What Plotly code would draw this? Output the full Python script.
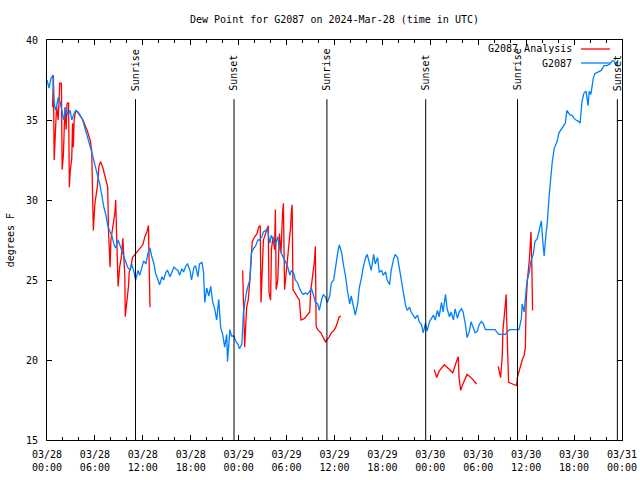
import pandas as pd
import plotly.graph_objects as go

start = pd.Timestamp("2024-03-28 00:00")

# G2087 observations: hours since 03/28 00:00 UTC, dew point (F)
obs_hours = [0.0, 0.25, 0.5, 0.75, 0.9, 1.1, 1.4, 1.6, 1.9, 2.1, 2.4, 2.6, 2.9, 3.1, 3.4, 3.6, 3.9, 4.1, 4.4, 4.75,
             5.1, 5.4, 5.6, 5.9, 6.1, 6.4, 6.6, 6.9, 7.1, 7.4, 7.6, 7.9, 8.1, 8.4, 8.6, 8.9, 9.1, 9.4, 9.6, 9.9,
             10.1, 10.4, 10.6, 10.9, 11.1, 11.4, 11.6, 11.9, 12.1, 12.4, 12.6, 12.9, 13.1, 13.4, 13.6, 13.9, 14.1,
             14.4, 14.6, 14.9, 15.1, 15.4, 15.6, 15.9, 16.1, 16.4, 16.6, 16.9, 17.1, 17.4, 17.6, 17.9, 18.1, 18.4,
             18.6, 18.9, 19.1, 19.4, 19.6, 19.75, 20.0, 20.25, 20.5, 20.75, 21.0, 21.25, 21.5, 21.75, 22.0, 22.25,
             22.5, 22.6, 22.9, 23.1, 23.4, 23.6, 23.9, 24.1, 24.4, 24.6, 24.9, 25.1, 25.4, 25.6, 25.9, 26.1, 26.4,
             26.6, 26.9, 27.1, 27.4, 27.6, 27.9, 28.1, 28.4, 28.6, 28.9, 29.1, 29.4, 29.6, 29.9, 30.1, 30.4, 30.6,
             30.9, 31.1, 31.4, 31.6, 31.9, 32.1, 32.4, 32.6, 32.9, 33.1, 33.4, 33.6, 33.9, 34.1, 34.4, 34.6, 34.9,
             35.1, 35.4, 35.6, 35.9, 36.1, 36.4, 36.6, 36.9, 37.1, 37.4, 37.6, 37.9, 38.1, 38.4, 38.6, 38.9, 39.1,
             39.4, 39.6, 39.9, 40.1, 40.4, 40.6, 40.9, 41.1, 41.4, 41.6, 41.9, 42.1, 42.4, 42.6, 42.9, 43.1, 43.4,
             43.6, 43.9, 44.1, 44.4, 44.6, 44.9, 45.1, 45.4, 45.6, 45.9, 46.1, 46.4, 46.6, 46.9, 47.1, 47.4, 47.6,
             47.9, 48.1, 48.4, 48.6, 48.9, 49.1, 49.4, 49.6, 49.9, 50.1, 50.4, 50.6, 50.9, 51.1, 51.4, 51.6, 51.9,
             52.1, 52.4, 52.6, 52.9, 53.1, 53.4, 53.6, 53.9, 54.1, 54.4, 54.6, 54.9, 55.1, 56.1, 56.4, 56.6, 57.4,
             57.6, 57.9, 59.1, 59.4, 59.5, 59.75, 60.0, 60.1, 60.4, 60.6, 60.9, 61.1, 61.4, 61.6, 61.9, 62.1, 62.25,
             62.5, 62.6, 62.9, 63.1, 63.25, 63.5, 63.9, 64.1, 64.5, 64.9, 65.1, 65.5, 65.75, 66.0, 66.25, 66.6,
             66.75, 66.9, 67.0, 67.25, 67.5, 67.75, 67.9, 68.1, 68.4, 68.6, 69.0, 69.4, 69.75, 70.1, 70.5, 70.75,
             71.0, 71.25, 71.5]
obs_values = [37.5, 37.0, 37.6, 37.8, 36.0, 35.6, 36.4, 36.2, 35.5, 35.0, 35.8, 35.3, 35.6, 35.0, 35.4, 35.6, 35.5,
              35.3, 35.1, 34.5, 33.9, 33.5, 33.0, 32.4, 32.0, 31.5, 31.0, 30.2, 29.6, 29.0, 28.4, 28.0, 27.8, 27.2,
              27.0, 27.5, 27.2, 26.8, 26.5, 26.1, 25.8, 25.6, 26.0, 25.5, 25.0, 25.6, 25.3, 25.8, 26.2, 26.0, 26.6,
              27.0, 26.5, 26.0, 25.4, 25.0, 24.7, 25.2, 25.0, 25.5, 25.6, 25.2, 25.4, 25.8, 25.7, 25.6, 25.3, 25.7,
              25.5, 25.9, 26.0, 25.6, 25.0, 25.8, 25.9, 25.2, 26.0, 26.1, 25.5, 23.6, 24.5, 24.0, 24.6, 23.6, 23.2,
              22.5, 23.8, 22.0, 21.6, 20.8, 21.6, 19.9, 21.9, 21.5, 21.5, 21.2, 21.0, 20.7, 21.0, 23.0, 24.0, 24.5,
              25.0, 26.7, 27.0, 27.1, 27.5, 27.5, 27.7, 28.0, 28.1, 28.2, 27.3, 27.8, 27.4, 27.2, 27.7, 27.0, 26.6,
              26.4, 26.0, 25.9, 25.3, 25.6, 25.4, 25.0, 24.8, 24.5, 24.2, 24.1, 24.2, 24.1, 24.3, 24.5, 24.0, 23.6,
              23.5, 23.1, 23.8, 24.1, 23.9, 23.6, 24.0, 24.8, 25.0, 25.8, 26.7, 27.2, 26.7, 26.0, 25.2, 24.4, 23.5,
              24.0, 23.3, 22.8, 23.5, 24.5, 25.2, 25.8, 26.4, 26.6, 26.0, 25.6, 26.6, 26.0, 26.4, 25.5, 25.6, 25.3,
              25.5, 25.0, 24.7, 25.6, 26.3, 26.6, 26.4, 25.8, 25.0, 24.2, 23.4, 23.1, 23.3, 23.0, 22.7, 22.6, 22.8,
              22.4, 22.2, 21.7, 22.3, 21.8, 22.4, 22.6, 22.8, 22.5, 23.1, 22.7, 23.6, 23.0, 24.1, 23.2, 22.7, 23.0,
              22.5, 23.2, 22.6, 23.0, 23.2, 23.0, 22.2, 21.4, 21.8, 22.4, 21.9, 21.7, 21.8, 22.2, 22.4, 22.3, 21.9,
              21.9, 21.9, 21.7, 21.6, 21.6, 21.7, 21.9, 21.9, 22.6, 23.5, 23.0, 24.4, 24.9, 25.5, 26.2, 26.6, 27.4,
              27.6, 28.1, 28.7, 27.3, 26.5, 28.0, 28.3, 30.4, 31.7, 32.3, 33.2, 33.7, 34.2, 34.5, 34.8, 35.6, 35.3,
              35.3, 35.1, 35.0, 34.9, 34.8, 35.8, 36.2, 36.7, 36.8, 35.9, 36.8, 36.6, 37.6, 37.9, 38.0, 38.1, 38.4,
              38.4, 38.5, 38.7, 38.7, 38.4, 38.75]

# G2087 Analysis: hours since 03/28 00:00 UTC, dew point (F); None = gap
ana_hours = [0.7, 0.8, 0.9, 1.0, 1.2, 1.4, 1.55, 1.6, 1.8, 1.9, 2.05, 2.2, 2.25, 2.4, 2.5, 2.7, 2.8, 2.9, 3.1, 3.2,
             3.3, 3.4, 3.6, 3.8, 4.1, 4.5, 5.0, 5.4, 5.6, 5.7, 5.8, 6.0, 6.3, 6.5, 6.7, 7.0, 7.3, 7.6, 7.7, 7.9,
             8.0, 8.2, 8.5, 8.6, 8.8, 8.9, 9.1, 9.3, 9.5, 9.75, 9.8, 10.0, 10.2, 10.3, 10.5, 10.7, 11.2, 11.6,
             12.0, 12.25, 12.5, 12.7, 12.8, 12.9, 18.0,
             24.5, 24.75, 25.0, 25.2, 25.4, 25.6, 25.7, 26.0, 26.3, 26.5, 26.7, 26.8, 26.95, 27.1, 27.5, 27.7,
             27.8, 28.0, 28.1, 28.3, 28.5, 28.6, 28.7, 28.9, 29.1, 29.3, 29.5, 29.6, 29.75, 30.2, 30.5, 30.6, 30.7,
             30.8, 31.0, 31.4, 31.6, 31.8, 32.25, 32.7, 32.9, 33.0, 33.2, 33.4, 33.5, 33.6, 33.7, 33.9, 34.3, 34.6,
             34.9, 35.0, 35.3, 35.6, 36.0, 36.2, 36.6, 36.8, 42.0,
             48.5, 48.8, 49.1, 49.75, 50.2, 50.8, 51.2, 51.5, 51.6, 51.8, 52.0, 52.6, 53.1, 53.8, 55.0,
             56.5, 56.8, 57.0, 57.1, 57.25, 57.4, 57.5, 57.55, 57.7, 57.8, 58.3, 58.8, 58.9, 59.0, 59.3, 59.5,
             59.75, 59.9, 60.0, 60.15, 60.4, 60.5, 60.6, 60.7, 60.8]
ana_values = [35.8, 37.8, 32.5, 33.6, 35.9, 35.0, 36.9, 37.3, 37.3, 31.9, 32.8, 35.0, 35.8, 34.4, 36.0, 36.1, 30.8,
              31.75, 32.6, 34.8, 33.3, 35.0, 35.6, 35.5, 35.3, 35.0, 34.4, 33.75, 33.1, 30.8, 28.1, 29.8, 30.8,
              32.1, 32.4, 32.0, 31.4, 30.8, 28.1, 25.8, 27.5, 28.1, 29.2, 30.0, 25.8, 24.6, 25.8, 26.4, 27.6, 25.2,
              22.7, 23.6, 24.6, 25.5, 25.8, 26.4, 26.7, 26.9, 27.2, 27.7, 28.0, 28.4, 26.0, 23.3, None,
              25.6, 20.8, 23.3, 23.75, 25.0, 26.4, 27.4, 27.7, 27.9, 28.3, 28.4, 23.6, 25.4, 27.5, 28.1, 28.4,
              24.2, 23.75, 26.9, 27.7, 26.9, 29.4, 24.4, 25.0, 27.9, 26.7, 29.2, 29.8, 24.4, 26.7, 28.3, 29.3,
              29.7, 24.4, 24.2, 23.9, 23.75, 22.5, 22.6, 22.9, 23.0, 24.2, 25.0, 25.6, 26.25, 27.1, 22.1, 21.9,
              21.7, 21.4, 21.1, 21.25, 21.4, 21.7, 21.9, 22.1, 22.7, 22.75, None,
              19.4, 18.9, 19.3, 19.7, 19.5, 19.2, 19.8, 20.2, 18.9, 18.1, 18.4, 19.1, 18.9, 18.5, None,
              19.6, 18.9, 20.2, 21.9, 22.7, 23.75, 24.1, 22.7, 20.8, 18.6, 18.5, 18.4, 18.9, 19.1, 19.6, 20.0,
              20.3, 20.8, 23.6, 25.0, 26.25, 27.3, 28.0, 26.2, 23.1]

# Sunrise / sunset times (hours since 03/28 00:00 UTC)
sun_hours = [11.08, 23.42, 35.05, 47.42, 58.92, 71.42]
sun_labels = ["Sunrise", "Sunset", "Sunrise", "Sunset", "Sunrise", "Sunset"]

series_names = ["G2087 Analysis", "G2087"]
series_colors = ["#ff0000", "#0080ff"]

FONT = "DejaVu Sans Mono"


def to_time(hours):
    return [start + pd.Timedelta(hours=h) for h in hours]


fig = go.Figure()
fig.add_trace(go.Scatter(x=to_time(ana_hours), y=ana_values, mode="lines", connectgaps=False,
                         line=dict(color=series_colors[0], width=1.3), name=series_names[0], showlegend=False))
fig.add_trace(go.Scatter(x=to_time(obs_hours), y=obs_values, mode="lines",
                         line=dict(color=series_colors[1], width=1.3), name=series_names[1], showlegend=False))

# sunrise / sunset markers
for h, lab in zip(sun_hours, sun_labels):
    t = start + pd.Timedelta(hours=h)
    fig.add_shape(type="line", x0=t, x1=t, y0=15, y1=36.3, xref="x", yref="y",
                  line=dict(color="black", width=1))
    fig.add_annotation(x=t, y=36.7, xref="x", yref="y", text=lab, textangle=-90, showarrow=False,
                       xanchor="center", yanchor="bottom", font=dict(family=FONT, size=10, color="black"))

# gnuplot-style key (text, then sample line on the right)
key_y = [0.9775, 0.9425]
for name, col, ky in zip(series_names, series_colors, key_y):
    fig.add_annotation(x=0.9165, y=ky, xref="paper", yref="paper", text=name, showarrow=False,
                       xanchor="right", yanchor="middle", font=dict(family=FONT, size=10, color="black"))
    fig.add_shape(type="line", x0=0.9287, x1=0.979, y0=ky, y1=ky, xref="paper", yref="paper",
                  line=dict(color=col, width=1.3))

# y-axis title
fig.add_annotation(x=-0.064, y=0.5, xref="paper", yref="paper", text="degrees F", textangle=-90,
                   showarrow=False, xanchor="center", yanchor="middle",
                   font=dict(family=FONT, size=10, color="black"))

fig.update_layout(
    width=640, height=480,
    margin=dict(l=47, r=18, t=40, b=40, autoexpand=False),
    paper_bgcolor="white", plot_bgcolor="white",
    title=dict(text="Dew Point for G2087 on 2024-Mar-28 (time in UTC)", x=0.5, xref="paper",
               y=1 - 19 / 480, yref="container", yanchor="middle", xanchor="center",
               font=dict(family=FONT, size=10, color="black")),
    font=dict(family=FONT, size=10, color="black"),
    showlegend=False,
)
fig.update_xaxes(
    range=[start, start + pd.Timedelta(hours=72)], automargin=False,
    type="date", dtick=6 * 3600 * 1000, tick0=start, tickformat="%m/%d<br>%H:%M",
    ticks="inside", ticklen=5, tickcolor="black", showline=True, linecolor="black", linewidth=1,
    mirror="ticks", showgrid=False, zeroline=False, ticklabelstandoff=5,
    minor=dict(dtick=2 * 3600 * 1000, ticks="inside", ticklen=3, tickcolor="black", showgrid=False),
    tickfont=dict(family=FONT, size=10, color="black"),
)
fig.update_yaxes(
    range=[15, 40], dtick=5, tick0=15, automargin=False,
    ticks="inside", ticklen=5, tickcolor="black", showline=True, linecolor="black", linewidth=1,
    mirror="ticks", showgrid=False, zeroline=False, ticklabelstandoff=6,
    tickfont=dict(family=FONT, size=10, color="black"),
)

fig.write_html("out.html", config={"displayModeBar": False},
               post_script="document.body.style.margin='0';document.body.style.overflow='hidden';")
